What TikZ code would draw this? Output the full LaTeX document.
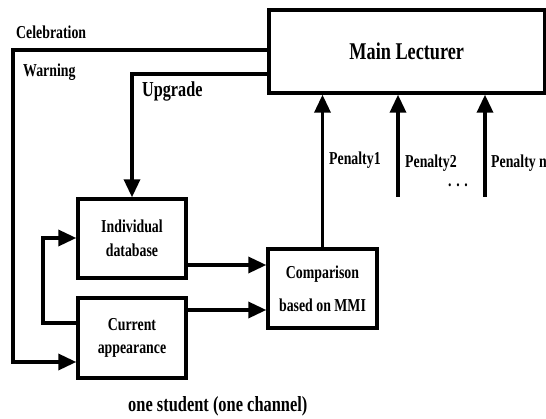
\documentclass[tikz,border=0pt]{standalone}
\usepackage{fontspec}
\setmainfont{Liberation Serif}[FakeStretch=0.76]
\usetikzlibrary{arrows.meta}
\tikzset{
  wire/.style={line width=3.4pt},
  arr/.style={wire,-{Triangle[length=18pt,width=16pt]}},
  box/.style={draw,line width=3.4pt,inner sep=0pt,align=center,font=\fontsize{18.2}{24}\selectfont\bfseries},
  lbl/.style={anchor=base west,inner sep=0pt,font=\fontsize{18.2}{22}\selectfont\bfseries},
}
\begin{document}
\begin{tikzpicture}[x=1pt,y=-1pt]
\useasboundingbox (0,0) rectangle (546,419);
% boxes
\node[box,minimum width=275.5,minimum height=83,font=\fontsize{24}{28}\selectfont\bfseries] (main) at (406.75,51.5) {Main Lecturer};
\node[box,minimum width=108,minimum height=79] (ind) at (132,238.5) {Individual\\database};
\node[box,minimum width=108,minimum height=80,font=\fontsize{18.2}{23}\selectfont\bfseries] (cur) at (132,338) {Current\\appearance};
\node[box,minimum width=109,minimum height=79,font=\fontsize{18.2}{33}\selectfont\bfseries] (cmp) at (322.5,288.5) {Comparison\\based on MMI};
% labels
\node[lbl] (celeb) at (16,39) {Celebration};
\node[lbl] (warn) at (23,77) {Warning};
\node[lbl,font=\fontsize{21.3}{24}\selectfont\bfseries] (upg) at (142,97) {Upgrade};
\node[lbl] (p1) at (329,165) {Penalty1};
\node[lbl] (p2) at (405,168) {Penalty2};
\node[lbl] (pn) at (491,168) {Penalty n};
\node[lbl] (dots) at (448,187) {. . .};
\node[lbl,font=\fontsize{21.6}{24}\selectfont\bfseries] (one) at (128,411) {one student (one channel)};
% free ends
\coordinate (p2s) at (398,197);
\coordinate (pns) at (485,197);
% connectors
\draw[arr] (main.west |- 0,50) -| (13,362) -- (cur.west |- 0,362);
\draw[arr] (main.west |- 0,74) -| (ind.north);
\draw[arr] (cur.west |- 0,323) -| (43,238) -- (ind.west |- 0,238);
\draw[arr] (ind.east |- 0,265) -- (cmp.west |- 0,265);
\draw[arr] (cur.east |- 0,310) -- (cmp.west |- 0,310);
\draw[arr] (cmp.north) -- (cmp.north |- main.south);
\draw[arr] (p2s) -- (p2s |- main.south);
\draw[arr] (pns) -- (pns |- main.south);
\end{tikzpicture}
\end{document}
